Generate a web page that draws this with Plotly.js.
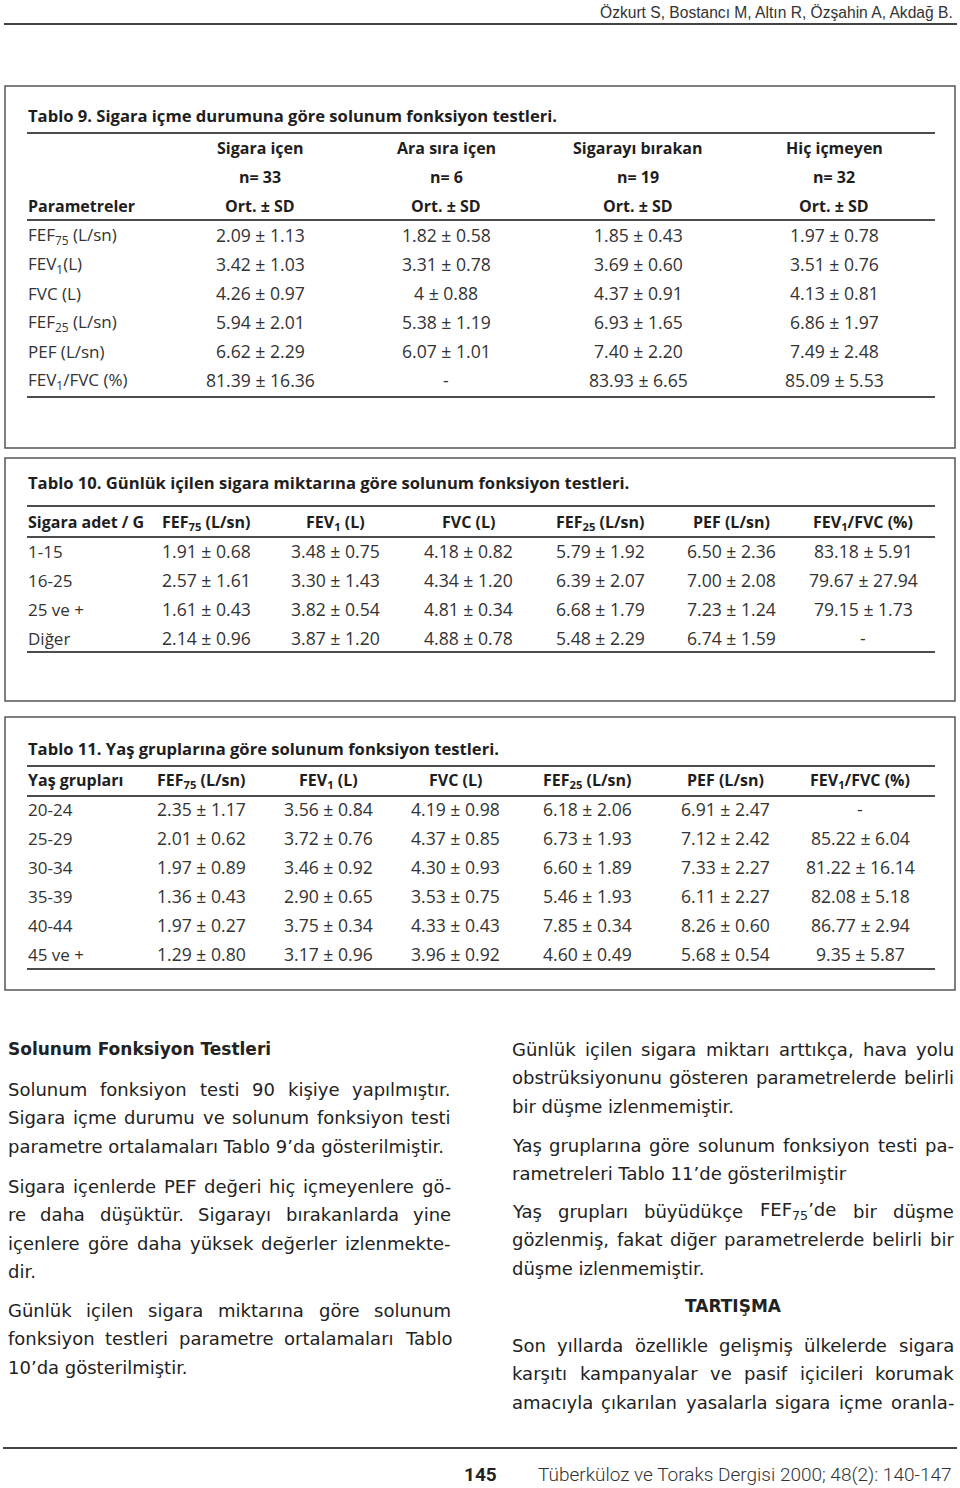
<!DOCTYPE html>
<html><head><meta charset="utf-8">
<script src="https://cdn.plot.ly/plotly-3.0.1.min.js"></script>
<style>html,body{margin:0;padding:0;background:#fff}#page{width:960px;height:1488px}</style>
</head><body><div id="page"></div>
<script>
// ---------------- data ----------------
const authors = 'Özkurt S, Bostancı M, Altın R, Özşahin A, Akdağ B.';
const pageNo = '145';
const journal = 'Tüberküloz ve Toraks Dergisi 2000; 48(2): 140-147';

const t9Title = 'Tablo 9. Sigara içme durumuna göre solunum fonksiyon testleri.';
const t9Groups = ['Sigara içen', 'Ara sıra içen', 'Sigarayı bırakan', 'Hiç içmeyen'];
const t9N = [33, 6, 19, 32];
const t9Params = ['FEF<sub>75</sub> (L/sn)', 'FEV<sub>1</sub>(L)', 'FVC (L)', 'FEF<sub>25</sub> (L/sn)', 'PEF (L/sn)', 'FEV<sub>1</sub>/FVC (%)'];
const t9SigaraIcen = ['2.09 ± 1.13', '3.42 ± 1.03', '4.26 ± 0.97', '5.94 ± 2.01', '6.62 ± 2.29', '81.39 ± 16.36'];
const t9AraSira    = ['1.82 ± 0.58', '3.31 ± 0.78', '4 ± 0.88', '5.38 ± 1.19', '6.07 ± 1.01', '-'];
const t9Birakan    = ['1.85 ± 0.43', '3.69 ± 0.60', '4.37 ± 0.91', '6.93 ± 1.65', '7.40 ± 2.20', '83.93 ± 6.65'];
const t9HicIcmeyen = ['1.97 ± 0.78', '3.51 ± 0.76', '4.13 ± 0.81', '6.86 ± 1.97', '7.49 ± 2.48', '85.09 ± 5.53'];

const paramHeaders = ['FEF<sub>75</sub> (L/sn)', 'FEV<sub>1</sub> (L)', 'FVC (L)', 'FEF<sub>25</sub> (L/sn)', 'PEF (L/sn)', 'FEV<sub>1</sub>/FVC (%)'];

const t10Title = 'Tablo 10. Günlük içilen sigara miktarına göre solunum fonksiyon testleri.';
const t10RowHeader = 'Sigara adet / G';
const t10Groups = ['1-15', '16-25', '25 ve +', 'Diğer'];
const t10FEF75 = ['1.91 ± 0.68', '2.57 ± 1.61', '1.61 ± 0.43', '2.14 ± 0.96'];
const t10FEV1  = ['3.48 ± 0.75', '3.30 ± 1.43', '3.82 ± 0.54', '3.87 ± 1.20'];
const t10FVC   = ['4.18 ± 0.82', '4.34 ± 1.20', '4.81 ± 0.34', '4.88 ± 0.78'];
const t10FEF25 = ['5.79 ± 1.92', '6.39 ± 2.07', '6.68 ± 1.79', '5.48 ± 2.29'];
const t10PEF   = ['6.50 ± 2.36', '7.00 ± 2.08', '7.23 ± 1.24', '6.74 ± 1.59'];
const t10Ratio = ['83.18 ± 5.91', '79.67 ± 27.94', '79.15 ± 1.73', '-'];

const t11Title = 'Tablo 11. Yaş gruplarına göre solunum fonksiyon testleri.';
const t11RowHeader = 'Yaş grupları';
const t11Groups = ['20-24', '25-29', '30-34', '35-39', '40-44', '45 ve +'];
const t11FEF75 = ['2.35 ± 1.17', '2.01 ± 0.62', '1.97 ± 0.89', '1.36 ± 0.43', '1.97 ± 0.27', '1.29 ± 0.80'];
const t11FEV1  = ['3.56 ± 0.84', '3.72 ± 0.76', '3.46 ± 0.92', '2.90 ± 0.65', '3.75 ± 0.34', '3.17 ± 0.96'];
const t11FVC   = ['4.19 ± 0.98', '4.37 ± 0.85', '4.30 ± 0.93', '3.53 ± 0.75', '4.33 ± 0.43', '3.96 ± 0.92'];
const t11FEF25 = ['6.18 ± 2.06', '6.73 ± 1.93', '6.60 ± 1.89', '5.46 ± 1.93', '7.85 ± 0.34', '4.60 ± 0.49'];
const t11PEF   = ['6.91 ± 2.47', '7.12 ± 2.42', '7.33 ± 2.27', '6.11 ± 2.27', '8.26 ± 0.60', '5.68 ± 0.54'];
const t11Ratio = ['-', '85.22 ± 6.04', '81.22 ± 16.14', '82.08 ± 5.18', '86.77 ± 2.94', '9.35 ± 5.87'];

const leftHeading = 'Solunum Fonksiyon Testleri';
const leftP1 = ['Solunum fonksiyon testi 90 kişiye yapılmıştır.', 'Sigara içme durumu ve solunum fonksiyon testi', 'parametre ortalamaları Tablo 9’da gösterilmiştir.'];
const leftP2 = ['Sigara içenlerde PEF değeri hiç içmeyenlere gö-', 're daha düşüktür. Sigarayı bırakanlarda yine', 'içenlere göre daha yüksek değerler izlenmekte-', 'dir.'];
const leftP3 = ['Günlük içilen sigara miktarına göre solunum', 'fonksiyon testleri parametre ortalamaları Tablo', '10’da gösterilmiştir.'];
const rightP1 = ['Günlük içilen sigara miktarı arttıkça, hava yolu', 'obstrüksiyonunu gösteren parametrelerde belirli', 'bir düşme izlenmemiştir.'];
const rightP2 = ['Yaş gruplarına göre solunum fonksiyon testi pa-', 'rametreleri Tablo 11’de gösterilmiştir'];
const rightP3 = ['Yaş grupları büyüdükçe FEF<sub>75</sub>’de bir düşme', 'gözlenmiş, fakat diğer parametrelerde belirli bir', 'düşme izlenmemiştir.'];
const rightHeading = 'TARTIŞMA';
const rightP4 = ['Son yıllarda özellikle gelişmiş ülkelerde sigara', 'karşıtı kampanyalar ve pasif içicileri korumak', 'amacıyla çıkarılan yasalarla sigara içme oranla-'];

// ---------------- styles / layout constants ----------------
const TF = 'Open Sans';
const BF = 'DejaVu Sans';
const TXT = '#333333';
const DARK = '#1e1e1e';
const RULE = '#4d4d4d';
const TITLE_SIZE = 16.6, HEAD_SIZE = 16, VAL_SIZE = 17.6;
const anns = [];
const shapes = [];

function ann(text, x, y, o) {
  o = o || {};
  anns.push({
    text: text, x: x, y: y, xref: 'x', yref: 'y', showarrow: false,
    xanchor: o.xa || 'center', yanchor: 'middle', borderpad: 0,
    font: { family: o.family || TF, size: o.size || VAL_SIZE, color: o.color || TXT, weight: o.weight || 400 }
  });
}
function hline(x0, x1, y, w, c) {
  shapes.push({ type: 'line', xref: 'x', yref: 'y', x0: x0, x1: x1, y0: y, y1: y, line: { color: c || RULE, width: w || 2 } });
}
function box(x0, x1, y0, y1) {
  shapes.push({ type: 'rect', xref: 'x', yref: 'y', x0: x0, x1: x1, y0: y0, y1: y1, line: { color: '#555', width: 1.5 } });
}

// header / footer
ann(authors, 954, 12, { xa: 'right', family: 'Liberation Sans', size: 15.6, color: '#333' });
hline(4, 957, 24, 2, '#444');
hline(3, 957, 1448, 2, '#444');
ann(pageNo, 480, 1474, { family: 'Roboto', size: 19, weight: 700, color: '#222' });
ann(journal, 537, 1474, { xa: 'left', family: 'Roboto', size: 19, weight: 300, color: '#333' });

// ---------------- Table 9 ----------------
box(5, 955, 86, 448);
const TL = 27, TR = 935;
ann(t9Title, TL, 115, { xa: 'left', size: TITLE_SIZE, weight: 700, color: DARK });
hline(TL, TR, 133);
const t9X = [260, 446, 638, 834];
const t9Cols = [t9SigaraIcen, t9AraSira, t9Birakan, t9HicIcmeyen];
t9Groups.forEach((g, i) => {
  ann(g, t9X[i], 148, { size: HEAD_SIZE, weight: 700, color: DARK });
  ann('n= ' + t9N[i], t9X[i], 177, { size: HEAD_SIZE, weight: 700, color: DARK });
  ann('Ort. ± SD', t9X[i], 206, { size: HEAD_SIZE, weight: 700, color: DARK });
});
ann('Parametreler', TL, 206, { xa: 'left', size: HEAD_SIZE, weight: 700, color: DARK });
hline(TL, TR, 220);
t9Params.forEach((p, r) => {
  const y = 235 + r * 29;
  ann(p, TL, y, { xa: 'left', size: 17 });
  t9Cols.forEach((col, c) => ann(col[r], t9X[c], y));
});
hline(TL, TR, 397);

// ---------------- Table 10 ----------------
box(5, 955, 458, 701);
ann(t10Title, TL, 482, { xa: 'left', size: TITLE_SIZE, weight: 700, color: DARK });
hline(TL, TR, 506);
const t10X = [206, 335, 468, 600, 731, 863];
const t10Cols = [t10FEF75, t10FEV1, t10FVC, t10FEF25, t10PEF, t10Ratio];
ann(t10RowHeader, TL, 522, { xa: 'left', size: HEAD_SIZE, weight: 700, color: DARK });
paramHeaders.forEach((h, i) => ann(h, t10X[i], 522, { size: HEAD_SIZE, weight: 700, color: DARK }));
hline(TL, TR, 537);
t10Groups.forEach((g, r) => {
  const y = 551 + r * 29;
  ann(g, TL, y, { xa: 'left', size: 17 });
  t10Cols.forEach((col, c) => ann(col[r], t10X[c], y));
});
hline(TL, TR, 652);

// ---------------- Table 11 ----------------
box(5, 955, 717, 990);
ann(t11Title, TL, 748, { xa: 'left', size: TITLE_SIZE, weight: 700, color: DARK });
hline(TL, TR, 766);
const t11X = [201, 328, 455, 587, 725, 860];
const t11Cols = [t11FEF75, t11FEV1, t11FVC, t11FEF25, t11PEF, t11Ratio];
ann(t11RowHeader, TL, 780, { xa: 'left', size: HEAD_SIZE, weight: 700, color: DARK });
paramHeaders.forEach((h, i) => ann(h, t11X[i], 780, { size: HEAD_SIZE, weight: 700, color: DARK }));
hline(TL, TR, 796);
t11Groups.forEach((g, r) => {
  const y = 809 + r * 29;
  ann(g, TL, y, { xa: 'left', size: 17 });
  t11Cols.forEach((col, c) => ann(col[r], t11X[c], y));
});
hline(TL, TR, 969);

// ---------------- body text (justified) ----------------
const BS = 18;
const cvs = document.createElement('canvas');
const ctx = cvs.getContext('2d');
function measure(word, size, weight) {
  let w = 0;
  word.split(/(<sub>.*?<\/sub>)/).forEach(p => {
    if (!p) return;
    let s = size, t = p;
    if (p.indexOf('<sub>') === 0) { s = size * 0.7; t = p.replace(/<\/?sub>/g, ''); }
    ctx.font = (weight || 400) + ' ' + s + 'px "' + BF + '"';
    w += ctx.measureText(t).width;
  });
  return w;
}
function para(lines, x0, x1, y0, justifyLast) {
  const LH = 28.5;
  lines.forEach((ln, i) => {
    const y = y0 + i * LH;
    const words = ln.split(' ');
    const justify = (i < lines.length - 1 || justifyLast) && words.length > 1;
    if (!justify) { ann(ln, x0, y, { xa: 'left', family: BF, size: BS, color: '#222' }); return; }
    const ws = words.map(w => measure(w, BS));
    const sum = ws.reduce((a, b) => a + b, 0);
    const gap = (x1 - x0 - sum) / (words.length - 1);
    let cx = x0;
    words.forEach((w, k) => {
      ann(w, cx, y, { xa: 'left', family: BF, size: BS, color: '#222' });
      cx += ws[k] + gap;
    });
  });
}
const LX0 = 7, LX1 = 450, RX0 = 511, RX1 = 953;
ann(leftHeading, LX0, 1049, { xa: 'left', family: BF, size: 17, weight: 700, color: '#222' });
para(leftP1, LX0, LX1, 1089, false);
para(leftP2, LX0, LX1, 1186, false);
para(leftP3, LX0, LX1, 1310, false);
para(rightP1, RX0, RX1, 1049, false);
para(rightP2, RX0, RX1, 1145, false);
para(rightP3, RX0, RX1, 1211, false);
ann(rightHeading, 733, 1306, { family: BF, size: 17, weight: 700, color: '#222' });
para(rightP4, RX0, RX1, 1345, true);

const layout = {
  width: 960, height: 1488,
  margin: { l: 0, r: 0, t: 0, b: 0, pad: 0 },
  paper_bgcolor: '#ffffff', plot_bgcolor: '#ffffff',
  xaxis: { range: [0, 960], visible: false, fixedrange: true },
  yaxis: { range: [1488, 0], visible: false, fixedrange: true },
  showlegend: false,
  annotations: anns,
  shapes: shapes
};
Plotly.newPlot('page', [], layout, { staticPlot: true, displayModeBar: false });
</script>
</body></html>
